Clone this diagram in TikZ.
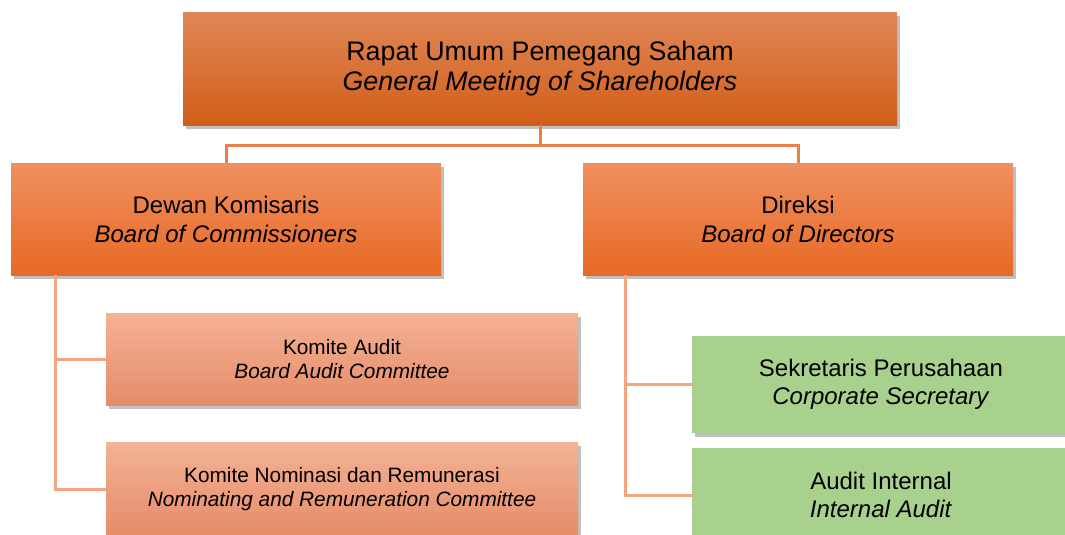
\documentclass[tikz,border=0pt]{standalone}
\usepackage{fontspec}
\setmainfont{Liberation Sans}
\usetikzlibrary{shadows}
\definecolor{topA}{RGB}{224,134,86}
\definecolor{topB}{RGB}{209,94,24}
\definecolor{midA}{RGB}{240,144,96}
\definecolor{midM}{RGB}{244,125,50}
\definecolor{midB}{RGB}{231,105,36}
\definecolor{comA}{RGB}{244,178,150}
\definecolor{comM}{RGB}{242,160,124}
\definecolor{comB}{RGB}{229,140,104}
\definecolor{greenbox}{RGB}{169,209,142}
\definecolor{lineA}{RGB}{232,128,72}
\definecolor{lineB}{RGB}{243,166,132}
\tikzset{
  orgbox/.style={rectangle, inner sep=0pt, align=center, text=black,
    drop shadow={shadow xshift=3pt, shadow yshift=-3.5pt, opacity=0.35, fill=black!70}},
  rupsbox/.style={orgbox, top color=topA, bottom color=topB,
    font={\fontsize{26.8}{30}\selectfont}},
  boardbox/.style={orgbox, top color=midA, middle color=midM, bottom color=midB,
    font={\fontsize{24}{29}\selectfont}},
  combox/.style={orgbox, top color=comA, middle color=comM, bottom color=comB,
    font={\fontsize{20.8}{24}\selectfont}},
  unitbox/.style={orgbox, fill=greenbox,
    font={\fontsize{24}{28}\selectfont}},
  connA/.style={draw=lineA, line width=3pt},
  connB/.style={draw=lineB, line width=3pt}
}
\begin{document}
\begin{tikzpicture}[x=1pt,y=-1pt]
\useasboundingbox (0,0) rectangle (1065,535);
\clip (0,0) rectangle (1065,535);
\fill[white] (0,0) rectangle (1065,535);

\node[rupsbox, minimum width=714pt, minimum height=112pt] (rups) at (540,69)
  {Rapat Umum Pemegang Saham\\\textit{General Meeting of Shareholders}};
\node[boardbox, minimum width=430pt, minimum height=112pt] (dk) at (226,219)
  {Dewan Komisaris\\\textit{Board of Commissioners}};
\node[boardbox, minimum width=430pt, minimum height=112pt] (dir) at (798,219)
  {Direksi\\\textit{Board of Directors}};
\node[combox, minimum width=472pt, minimum height=92pt] (ka) at (342,359)
  {Komite Audit\\\textit{Board Audit Committee}};
\node[combox, minimum width=472pt, minimum height=94pt] (kn) at (342,489)
  {Komite Nominasi dan Remunerasi\\\textit{Nominating and Remuneration Committee}};
\node[unitbox, minimum width=378pt, minimum height=97pt] (sek) at (881,384.5)
  {Sekretaris Perusahaan\\\textit{Corporate Secretary}};
\node[unitbox, minimum width=378pt, minimum height=94pt] (ai) at (881,495)
  {Audit Internal\\\textit{Internal Audit}};

\draw[connA] (rups.south) -- ++(0,20) coordinate (junc);
\draw[connA] (junc) -| (dk.north);
\draw[connA] (junc) -| (dir.north);

\draw[connB] ([xshift=45pt]dk.south west) |- (ka.west);
\draw[connB] ([xshift=45pt]dk.south west) |- (kn.west);
\draw[connB] ([xshift=43pt]dir.south west) |- (sek.west);
\draw[connB] ([xshift=43pt]dir.south west) |- (ai.west);
\end{tikzpicture}
\end{document}
